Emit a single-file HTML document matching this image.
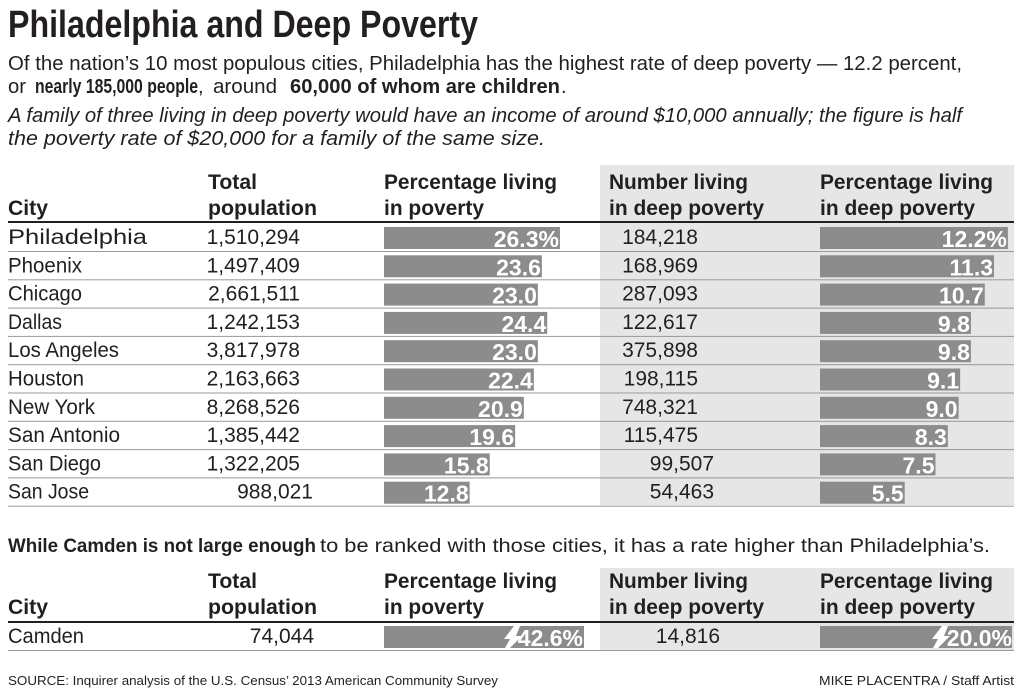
<!DOCTYPE html>
<html><head><meta charset="utf-8"><style>
html,body{margin:0;padding:0;background:#fff;}
svg{display:block;}
text{font-family:"Liberation Sans",sans-serif;fill:#231f20;}
.b{font-weight:bold;}
.h{font-weight:bold;font-size:21px;}
.c{font-size:21px;}
.v{font-weight:bold;font-size:23px;fill:#fff;text-anchor:end;}
</style></head><body>
<svg width="1024" height="697" viewBox="0 0 1024 697" xmlns="http://www.w3.org/2000/svg">
<rect width="1024" height="697" fill="#fff"/>
<text x="8" y="37" class="b" font-size="38" textLength="470" lengthAdjust="spacingAndGlyphs">Philadelphia and Deep Poverty</text>
<text x="8" y="70" font-size="20" textLength="954" lengthAdjust="spacingAndGlyphs">Of the nation’s 10 most populous cities, Philadelphia has the highest rate of deep poverty — 12.2 percent,</text>
<text x="8" y="93" font-size="20" textLength="18" lengthAdjust="spacingAndGlyphs">or</text>
<text x="35" y="93" font-size="20" class="b" textLength="163" lengthAdjust="spacingAndGlyphs">nearly 185,000 people</text>
<text x="198" y="93" font-size="20">,</text>
<text x="213" y="93" font-size="20" textLength="64" lengthAdjust="spacingAndGlyphs">around</text>
<text x="290" y="93" font-size="20" class="b" textLength="270" lengthAdjust="spacingAndGlyphs">60,000 of whom are children</text>
<text x="561" y="93" font-size="20">.</text>
<text x="8" y="122" font-size="20" font-style="italic" textLength="954" lengthAdjust="spacingAndGlyphs">A family of three living in deep poverty would have an income of around $10,000 annually; the figure is half</text>
<text x="8" y="145" font-size="20" font-style="italic" textLength="537" lengthAdjust="spacingAndGlyphs">the poverty rate of $20,000 for a family of the same size.</text>

<rect x="600" y="165" width="414" height="340" fill="#e6e6e7"/>
<text x="208" y="189" class="h" textLength="49" lengthAdjust="spacingAndGlyphs">Total</text>
<text x="8" y="215" class="h" textLength="40" lengthAdjust="spacingAndGlyphs">City</text>
<text x="208" y="215" class="h" textLength="109" lengthAdjust="spacingAndGlyphs">population</text>
<text x="384" y="189" class="h" textLength="173" lengthAdjust="spacingAndGlyphs">Percentage living</text>
<text x="384" y="215" class="h" textLength="100" lengthAdjust="spacingAndGlyphs">in poverty</text>
<text x="609" y="189" class="h" textLength="139" lengthAdjust="spacingAndGlyphs">Number living</text>
<text x="609" y="215" class="h" textLength="155" lengthAdjust="spacingAndGlyphs">in deep poverty</text>
<text x="820" y="189" class="h" textLength="173" lengthAdjust="spacingAndGlyphs">Percentage living</text>
<text x="820" y="215" class="h" textLength="155" lengthAdjust="spacingAndGlyphs">in deep poverty</text>
<rect x="8" y="221" width="1006" height="2" fill="#231f20"/>

<g id="rows"></g>

<text x="8" y="552" font-size="19.5" class="b" textLength="308" lengthAdjust="spacingAndGlyphs">While Camden is not large enough</text>
<text x="320" y="552" font-size="19.5" textLength="670" lengthAdjust="spacingAndGlyphs">to be ranked with those cities, it has a rate higher than Philadelphia’s.</text>
<rect x="600" y="568" width="414" height="82" fill="#e6e6e7"/>
<text x="208" y="588" class="h" textLength="49" lengthAdjust="spacingAndGlyphs">Total</text>
<text x="8" y="614" class="h" textLength="40" lengthAdjust="spacingAndGlyphs">City</text>
<text x="208" y="614" class="h" textLength="109" lengthAdjust="spacingAndGlyphs">population</text>
<text x="384" y="588" class="h" textLength="173" lengthAdjust="spacingAndGlyphs">Percentage living</text>
<text x="384" y="614" class="h" textLength="100" lengthAdjust="spacingAndGlyphs">in poverty</text>
<text x="609" y="588" class="h" textLength="139" lengthAdjust="spacingAndGlyphs">Number living</text>
<text x="609" y="614" class="h" textLength="155" lengthAdjust="spacingAndGlyphs">in deep poverty</text>
<text x="820" y="588" class="h" textLength="173" lengthAdjust="spacingAndGlyphs">Percentage living</text>
<text x="820" y="614" class="h" textLength="155" lengthAdjust="spacingAndGlyphs">in deep poverty</text>
<rect x="8" y="621" width="1006" height="2" fill="#231f20"/>
<text x="8" y="643" class="c" textLength="76" lengthAdjust="spacingAndGlyphs">Camden</text>
<text x="314" y="643" class="c" text-anchor="end">74,044</text>
<rect x="384" y="626" width="200" height="22" fill="#8c8c8c"/>
<polygon points="514,626 520,626 516,636 522,636 510,648 505,648 510,639 504,639" fill="#fff"/>
<text x="583" y="646" class="v">42.6%</text>
<text x="720" y="643" class="c" text-anchor="end">14,816</text>
<rect x="820" y="626" width="192" height="22" fill="#8c8c8c"/>
<polygon points="942,626 948,626 944,636 950,636 938,648 933,648 938,639 932,639" fill="#fff"/>
<text x="1012" y="646" class="v">20.0%</text>
<rect x="8" y="650" width="1006" height="1" fill="#999"/>

<text x="8" y="685" font-size="13" textLength="490" lengthAdjust="spacingAndGlyphs">SOURCE: Inquirer analysis of the U.S. Census’ 2013 American Community Survey</text>
<text x="819" y="685" font-size="13" textLength="195" lengthAdjust="spacingAndGlyphs">MIKE PLACENTRA / Staff Artist</text>
</svg>
<script>
var d=[["Philadelphia","1,510,294",26.3,"26.3%","184,218",12.2,"12.2%",139],
["Phoenix","1,497,409",23.6,"23.6","168,969",11.3,"11.3",74],
["Chicago","2,661,511",23.0,"23.0","287,093",10.7,"10.7",74],
["Dallas","1,242,153",24.4,"24.4","122,617",9.8,"9.8",54],
["Los Angeles","3,817,978",23.0,"23.0","375,898",9.8,"9.8",111],
["Houston","2,163,663",22.4,"22.4","198,115",9.1,"9.1",76],
["New York","8,268,526",20.9,"20.9","748,321",9.0,"9.0",87],
["San Antonio","1,385,442",19.6,"19.6","115,475",8.3,"8.3",112],
["San Diego","1,322,205",15.8,"15.8","99,507",7.5,"7.5",93],
["San Jose","988,021",12.8,"12.8","54,463",5.5,"5.5",81]];
var g=document.getElementById("rows"),s="";
d.forEach(function(r,i){
 var t=223+28.3*i,b=t+21;
 var pe=384+r[2]*6.69,de=820+r[5]*15.4;
 var px=r[1].length>7?300:313, dx=r[4].length>6?698:714;
 s+='<text x="8" y="'+b+'" class="c" textLength="'+r[7]+'" lengthAdjust="spacingAndGlyphs">'+r[0]+'</text>';
 s+='<text x="'+px+'" y="'+b+'" class="c" text-anchor="end">'+r[1]+'</text>';
 s+='<rect x="384" y="'+(t+4)+'" width="'+(pe-384)+'" height="22" fill="#8c8c8c"/>';
 s+='<text x="'+(pe-1)+'" y="'+(t+24)+'" class="v">'+r[3]+'</text>';
 s+='<text x="'+dx+'" y="'+b+'" class="c" text-anchor="end">'+r[4]+'</text>';
 s+='<rect x="820" y="'+(t+4)+'" width="'+(de-820)+'" height="22" fill="#8c8c8c"/>';
 s+='<text x="'+(de-1)+'" y="'+(t+24)+'" class="v">'+r[6]+'</text>';
 s+='<rect x="8" y="'+(t+28)+'" width="1006" height="1" fill="#999"/>';
});
g.innerHTML=s;
</script>
</body></html>
